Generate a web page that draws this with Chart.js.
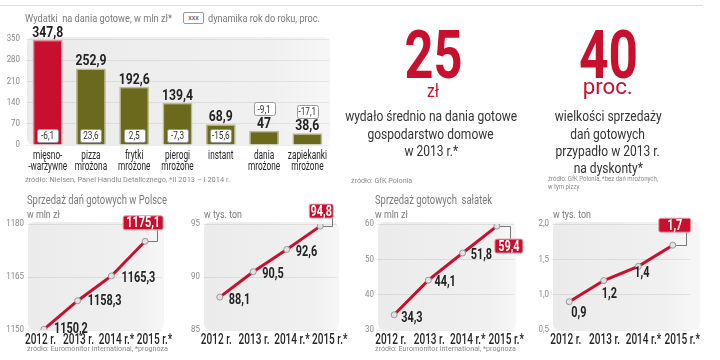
<!DOCTYPE html>
<html><head><meta charset="utf-8">
<script src="https://cdn.jsdelivr.net/npm/chart.js@4.4.1/dist/chart.umd.min.js"></script>
<style>
html,body{margin:0;padding:0;background:#fff;}
#wrap{position:relative;width:720px;height:360px;overflow:hidden;background:#fff;}
canvas{position:absolute;}
.t{position:absolute;white-space:pre;line-height:1;font-family:Roboto,sans-serif;}
.t span{display:inline-block;}
</style></head>
<body><div id="wrap">
<div style="position:absolute;left:0;top:5px;width:703px;height:1px;background:#ddd"></div>
<canvas id="bar" width="340" height="190" style="left:0;top:0"></canvas>
<canvas id="l1" width="180" height="160" style="left:0;top:195px"></canvas>
<canvas id="l2" width="170" height="160" style="left:180px;top:195px"></canvas>
<canvas id="l3" width="180" height="160" style="left:355px;top:195px"></canvas>
<canvas id="l4" width="190" height="160" style="left:530px;top:195px"></canvas>
<div style="position:absolute;left:183px;top:12px;width:19px;height:10px;border:1px solid #999;border-radius:2px;background:#fff;font:7px Roboto,sans-serif;color:#444;text-align:center;line-height:10px">xxx</div>
</div>
<script>
// ---------- DATA ----------
const barCategories = [["mięsno-","-warzywne"],["pizza","mrożona"],["frytki","mrożone"],["pierogi","mrożone"],["instant"],["dania","mrożone"],["zapiekanki","mrożone"]];
const barValues = [347.8, 252.9, 192.6, 139.4, 68.9, 47, 38.6];
const barDynamics = [-6.1, 23.6, 2.5, -7.3, -15.6, -9.1, -17.1];
const barTicks = [0, 70, 140, 210, 280, 350];

const years = ["2012 r.", "2013 r.", "2014 r.*", "2015 r.*"];
const mealsSalesMln = [1150.2, 1158.3, 1165.3, 1175.1];
const mealsSalesTons = [88.1, 90.5, 92.6, 94.8];
const saladSalesMln = [34.3, 44.1, 51.8, 59.4];
const saladSalesTons = [0.9, 1.2, 1.4, 1.7];
const mealsMlnTicks = [1150, 1165, 1180];
const mealsTonsTicks = [85, 90, 95];
const saladMlnTicks = [30, 40, 50, 60];
const saladTonsTicks = [0.5, 1.0, 1.5, 2.0];

// ---------- STYLE ----------
const FN = 'Roboto, sans-serif';
const RED = '#c8102e', OLIVE = '#6b6a1c';
const fmt = (v, d) => (d == null ? String(v) : v.toFixed(d)).replace('.', ',');

const mctx = document.createElement('canvas').getContext('2d');
function fit(font, ref, w) { mctx.font = font; return w / mctx.measureText(ref).width; }

function rr(ctx, x, y, w, h, r) { ctx.beginPath(); ctx.roundRect(x, y, w, h, r); }
function drawT(ctx, s, x, y, align, base, font, color, sx) {
  ctx.save(); ctx.font = font; ctx.fillStyle = color; ctx.textAlign = align; ctx.textBaseline = base;
  ctx.translate(x, y); ctx.scale(sx, 1); ctx.fillText(s, 0, 0); ctx.restore();
}

const bgPlugin = {
  id: 'bg',
  beforeDraw(chart, args, o) {
    const a = chart.chartArea, ctx = chart.ctx;
    const g = ctx.createLinearGradient(a.left, 0, a.right, 0);
    g.addColorStop(0, '#ebebeb'); g.addColorStop(0.8, '#f0f0f0'); g.addColorStop(1, '#f6f6f6');
    ctx.save(); ctx.fillStyle = g;
    rr(ctx, a.left + (o.dl || 0), a.top - 2, a.width - (o.dl || 0) + (o.dr || 0), a.height + (o.db || 2), 6); ctx.fill();
    ctx.restore();
  }
};

function tickPlugin(c) {
  const yFont = '9px ' + FN;
  return {
    id: 'ticksDraw',
    afterDraw(chart) {
      const ctx = chart.ctx, a = chart.chartArea, ys = chart.scales.y, xs = chart.scales.x;
      ys.ticks.forEach(t => drawT(ctx, fmt(t.value, c.yDec), a.left - c.yPad, ys.getPixelForValue(t.value),
        'right', 'middle', yFont, '#8a8a8a', 0.88));
      const n = chart.data.labels.length;
      chart.data.labels.forEach((lab, i) => {
        const lines = Array.isArray(lab) ? lab : [lab];
        const x = xs.getPixelForValue(i) + (i - (n - 1) / 2) * (c.spread || 0) + (c.shift || 0);
        lines.forEach((ln, j) => drawT(ctx, ln, x, a.bottom + c.xTop + j * c.xLh,
          'center', 'middle', c.xFont, '#262626', c.xSx));
      });
    }
  };
}

// text helper for HTML overlays (scaled horizontally to the reference width)
const wrap = document.getElementById('wrap');
function txt(x, base, s, size, color, sx, opts = {}) {
  const d = document.createElement('div');
  d.className = 't';
  const sp = document.createElement('span'); sp.textContent = s;
  sp.style.transform = 'scaleX(' + sx + ')';
  d.appendChild(sp);
  d.style.fontSize = size + 'px'; d.style.color = color;
  if (opts.bold) d.style.fontWeight = 'bold';
  d.style.top = (base - 0.842 * size) + 'px';
  if (opts.center) { d.style.left = (x - 150) + 'px'; d.style.width = '300px'; d.style.textAlign = 'center'; sp.style.transformOrigin = '50% 50%'; }
  else { d.style.left = x + 'px'; sp.style.transformOrigin = '0 50%'; }
  wrap.appendChild(d);
}

// ---------- BAR CHART ----------
const VAL_FONT = 'bold 15px ' + FN, VAL_SX = fit(VAL_FONT, '347,8', 31);
const DYN_FONT = '11px ' + FN, DYN_SX = fit(DYN_FONT, '23,6', 15.5);
const CAT_FONT = '13.5px ' + FN, CAT_SX = Math.min(fit(CAT_FONT, 'zapiekanki', 48), fit(CAT_FONT, '-warzywne', 39));

const barLabelPlugin = {
  id: 'barLabels',
  afterDatasetsDraw(chart) {
    const ctx = chart.ctx, meta = chart.getDatasetMeta(0);
    meta.data.forEach((b, i) => {
      const h = b.base - b.y;
      drawT(ctx, fmt(barValues[i]), b.x, b.y - 3, 'center', 'alphabetic', VAL_FONT, '#222', VAL_SX);
      const bw = 21, bh = 13;
      const cy = h < 18 ? b.y - 22 : b.base - 9;
      ctx.save();
      ctx.fillStyle = '#fff'; ctx.strokeStyle = '#9a9a9a'; ctx.lineWidth = 1;
      rr(ctx, Math.round(b.x - bw / 2) + 0.5, Math.round(cy - bh / 2) + 0.5, bw, bh, 2); ctx.fill(); ctx.stroke();
      ctx.restore();
      drawT(ctx, fmt(barDynamics[i]), b.x, cy + 1, 'center', 'middle', DYN_FONT, '#333', DYN_SX);
    });
  }
};

new Chart(document.getElementById('bar'), {
  type: 'bar',
  data: { labels: barCategories, datasets: [{
    data: barValues,
    backgroundColor: barValues.map((v, i) => i === 0 ? RED : OLIVE),
    borderColor: barValues.map((v, i) => i === 0 ? '#e68a98' : '#bdbb92'),
    borderWidth: 1.5, borderSkipped: 'bottom',
    categoryPercentage: 1, barPercentage: 0.69
  }] },
  options: {
    responsive: false, animation: false,
    plugins: { legend: { display: false }, tooltip: { enabled: false }, bg: { dl: 1, dr: 1 } },
    layout: { padding: { top: 39, right: 11, left: 0, bottom: 0 } },
    scales: {
      x: { grid: { display: false }, border: { display: false }, ticks: { display: false },
           afterFit: s => { s.height = 45; } },
      y: { min: 0, max: 350, afterBuildTicks: s => { s.ticks = barTicks.map(v => ({ value: v })); },
           ticks: { display: false },
           grid: { color: 'rgba(0,0,0,0.07)', drawTicks: false }, border: { display: false },
           afterFit: s => { s.width = 26; } }
    }
  },
  plugins: [bgPlugin, barLabelPlugin, tickPlugin({ yDec: null, yPad: 6, xTop: 11, xLh: 10.5, xFont: CAT_FONT, xSx: CAT_SX })]
});

// ---------- LINE CHARTS ----------
const PT_FONT = 'bold 14px ' + FN, PT_SX = fit(PT_FONT, '1150,2', 34);
const YR_FONT = '500 14px ' + FN, YR_SX = fit(YR_FONT, '2012 r.', 31);

function lineChart(id, values, ticks, dec, tickDec, cfg) {
  const labelPlugin = {
    id: 'ptLabels',
    afterDatasetsDraw(chart) {
      const ctx = chart.ctx, pts = chart.getDatasetMeta(0).data;
      pts.forEach((p, i) => {
        const s = fmt(values[i], dec);
        if (i < pts.length - 1) {
          const o = cfg.off[i];
          drawT(ctx, s, p.x + o[0], p.y + o[1], 'left', 'middle', PT_FONT, '#222', PT_SX);
        } else {
          const b = cfg.box;
          const cx = p.x + b.dx, cy = p.y + b.dy;
          ctx.save();
          ctx.strokeStyle = '#777'; ctx.lineWidth = 1;
          ctx.beginPath(); ctx.moveTo(p.x + 3, Math.round(p.y) + 0.5); ctx.lineTo(Math.round(p.x + b.cx) + 0.5, Math.round(p.y) + 0.5);
          ctx.lineTo(Math.round(p.x + b.cx) + 0.5, b.dy < 0 ? cy + 7 : cy - 7); ctx.stroke();
          ctx.fillStyle = RED; ctx.strokeStyle = '#e8a0aa'; ctx.lineWidth = 1;
          rr(ctx, cx - b.w / 2, cy - 7, b.w, 14, 2); ctx.fill(); ctx.stroke();
          ctx.restore();
          drawT(ctx, s, cx, cy + 1, 'center', 'middle', PT_FONT, '#fff', PT_SX);
        }
      });
    }
  };
  new Chart(document.getElementById(id), {
    type: 'line',
    data: { labels: years, datasets: [{
      data: values, borderColor: RED, borderWidth: 3, tension: 0,
      pointRadius: 3, pointBackgroundColor: '#e2e2e2', pointBorderColor: '#999', pointBorderWidth: 1
    }] },
    options: {
      responsive: false, animation: false,
      plugins: { legend: { display: false }, tooltip: { enabled: false }, bg: { dl: 1, dr: cfg.bgr || 2, db: 2 } },
      layout: { padding: { top: 29, right: cfg.right, left: 0, bottom: 0 } },
      scales: {
        x: { offset: true, grid: { display: false }, border: { display: false }, ticks: { display: false },
             afterFit: s => { s.height = 25; } },
        y: { min: ticks[0], max: ticks[ticks.length - 1],
             afterBuildTicks: s => { s.ticks = ticks.map(v => ({ value: v })); },
             ticks: { display: false },
             grid: { color: 'rgba(0,0,0,0.08)', drawTicks: false }, border: { display: false },
             afterFit: s => { s.width = cfg.left; } }
      }
    },
    plugins: [bgPlugin, labelPlugin, tickPlugin({ yDec: tickDec, yPad: 3, xTop: 10, xLh: 0, xFont: YR_FONT, xSx: YR_SX, spread: 4.3, shift: 3 })]
  });
}

lineChart('l1', mealsSalesMln, mealsMlnTicks, 1, null,
  { left: 27, right: 18, off: [[10, 0], [10, 1], [10, 3]], box: { dx: -2, dy: -18.5, w: 40, cx: 12 } });
lineChart('l2', mealsSalesTons, mealsTonsTicks, 1, null,
  { left: 23, right: 13, off: [[9, 3], [9, 3], [9, 3]], box: { dx: 1, dy: -15, w: 24, cx: 12 } });
lineChart('l3', saladSalesMln, saladMlnTicks, 1, null,
  { left: 22, right: 21, off: [[7, 4], [6, 2], [8, 3]], box: { dx: 12, dy: 20, w: 28, cx: 13 } });
lineChart('l4', saladSalesTons, saladTonsTicks, 1, 1,
  { left: 22, right: 30, bgr: 10, off: [[2, 12], [-2, 14], [-4, 7]], box: { dx: 2, dy: -20, w: 32, cx: 13 } });

// ---------- TEXT ----------
const G = '#7a7a7a', D = '#333', S = '#8a8a8a';
const BODY_SX = fit('14px ' + FN, 'wydało średnio na dania gotowe', 172);
const SRC_SX = fit('8px ' + FN, 'źródło: Euromonitor International, *prognoza', 141);
const SRC2_SX = fit('7.5px ' + FN, 'źródło: GfK Polonia, *bez dań mrożonych,', 110);

txt(25, 22, 'Wydatki  na dania gotowe, w mln zł*', 11, G, fit('11px ' + FN, 'Wydatki  na dania gotowe, w mln zł*', 147));
txt(208, 22, 'dynamika rok do roku, proc.', 11, G, fit('11px ' + FN, 'dynamika rok do roku, proc.', 112));
txt(25, 183, 'źródło: Nielsen, Panel Handlu Detalicznego, *II 2013 – I 2014 r.', 8, S, fit('8px ' + FN, 'źródło: Nielsen, Panel Handlu Detalicznego, *II 2013 – I 2014 r.', 205));

txt(433, 78, '25', 67, RED, fit('bold 67px ' + FN, '25', 58), { bold: true, center: true });
txt(433, 97, 'zł', 18, RED, fit('18px ' + FN, 'zł', 12), { center: true });
txt(431, 121, 'wydało średnio na dania gotowe', 14, D, BODY_SX, { center: true });
txt(431, 139, 'gospodarstwo domowe', 14, D, BODY_SX, { center: true });
txt(431, 156, 'w 2013 r.*', 14, D, BODY_SX, { center: true });
txt(351, 184, 'źródło: GfK Polonia', 8, S, SRC_SX);

txt(608, 78, '40', 67, RED, fit('bold 67px ' + FN, '40', 59), { bold: true, center: true });
txt(608, 95, 'proc.', 22, RED, fit('22px ' + FN, 'proc.', 50), { center: true });
txt(608, 121, 'wielkości sprzedaży', 14, D, BODY_SX, { center: true });
txt(608, 139, 'dań gotowych', 14, D, BODY_SX, { center: true });
txt(608, 156, 'przypadło w 2013 r.', 14, D, BODY_SX, { center: true });
txt(608, 173, 'na dyskonty*', 14, D, BODY_SX, { center: true });
txt(548, 181, 'źródło: GfK Polonia, *bez dań mrożonych,', 7.5, S, SRC2_SX);
txt(548, 189, 'w tym pizzy', 7.5, S, SRC2_SX);

const TT_SX = fit('12px ' + FN, 'Sprzedaż dań gotowych w Polsce', 140);
const UN_SX = fit('11px ' + FN, 'w tys. ton', 38);
txt(27, 204, 'Sprzedaż dań gotowych w Polsce', 12, G, TT_SX);
txt(27, 218, 'w mln zł', 11, G, UN_SX);
txt(204, 218, 'w tys. ton', 11, G, UN_SX);
txt(27, 352, 'źródło: Euromonitor International, *prognoza', 8, S, SRC_SX);

txt(375, 204, 'Sprzedaż gotowych  sałatek', 12, G, TT_SX);
txt(375, 218, 'w mln zł', 11, G, UN_SX);
txt(553, 218, 'w tys. ton', 11, G, UN_SX);
txt(375, 352, 'źródło: Euromonitor International, *prognoza', 8, S, SRC_SX);
</script>
</body></html>
